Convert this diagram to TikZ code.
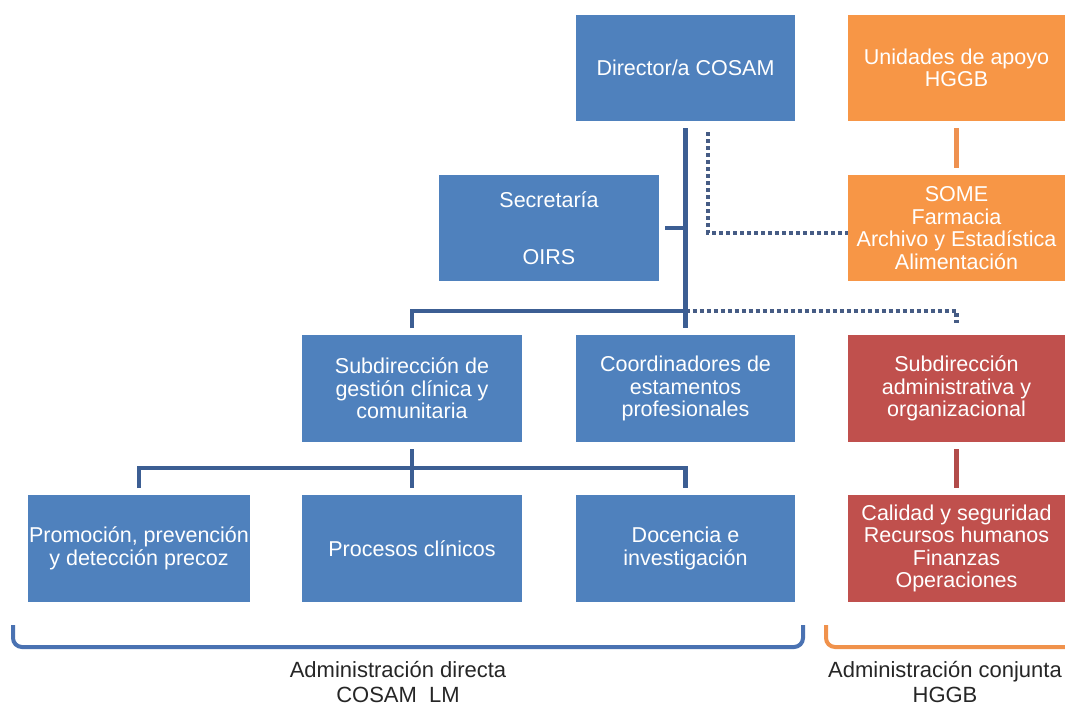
\documentclass[tikz,border=0pt]{standalone}
\usepackage{fontspec}
\setmainfont{Liberation Sans}
\definecolor{boxblue}{HTML}{4F81BD}
\definecolor{boxorange}{HTML}{F79646}
\definecolor{boxred}{HTML}{C0504D}
\definecolor{lineblue}{HTML}{3C5E93}
\definecolor{dotblue}{HTML}{465C85}
\definecolor{lineorange}{HTML}{EE9150}
\definecolor{linered}{HTML}{B24C4A}
\definecolor{bracketblue}{HTML}{4A72B2}
\definecolor{bracketorange}{HTML}{F0924C}
\definecolor{txt}{HTML}{262626}
\begin{document}
\begin{tikzpicture}[x=1pt,y=-1pt,
  box/.style={draw=none, inner sep=0pt, outer sep=0pt, minimum width=219pt,
    minimum height=106pt, align=center, text=white,
    font=\fontsize{21.5}{22.5}\selectfont},
  bluebox/.style={box, fill=boxblue},
  orangebox/.style={box, fill=boxorange},
  redbox/.style={box, fill=boxred},
  conn/.style={draw=lineblue, line width=4.5pt},
  dotline/.style={draw=dotblue, line width=4.2pt, dash pattern=on 4pt off 3pt},
  oline/.style={draw=lineorange, line width=4.5pt},
  rline/.style={draw=linered, line width=4.5pt},
  brace/.style={line width=4pt, rounded corners=9pt},
  lbl/.style={align=center, text=txt, inner sep=0pt,
    font=\fontsize{22}{24.5}\selectfont}
]
\useasboundingbox (0,0) rectangle (1065,705);

% boxes
\node[bluebox] (dir) at (685.5,68) {Director/a COSAM};
\node[orangebox, minimum width=217pt] (uni) at (956.5,68) {Unidades de apoyo\\HGGB};
\node[bluebox, minimum width=220pt] (sec) at (549,228) {Secretaría\\[34pt]OIRS};
\node[orangebox, minimum width=217pt] (some) at (956.5,228) {SOME\\Farmacia\\Archivo y Estadística\\Alimentación};
\node[bluebox, minimum width=220pt, minimum height=107pt] (sub) at (412,388.5) {Subdirección de\\gestión clínica y\\comunitaria};
\node[bluebox, minimum height=107pt] (coord) at (685.5,388.5) {Coordinadores de\\estamentos\\profesionales};
\node[redbox, minimum width=217pt, minimum height=107pt] (adm) at (956.5,388.5) {Subdirección\\administrativa y\\organizacional};
\node[bluebox, minimum width=222pt, minimum height=107pt] (prom) at (139,548.5) {Promoción, prevención\\y detección precoz};
\node[bluebox, minimum width=220pt, minimum height=107pt] (proc) at (412,548.5) {Procesos clínicos};
\node[bluebox, minimum height=107pt] (doc) at (685.5,548.5) {Docencia e\\investigación};
\node[redbox, minimum width=217pt, minimum height=107pt] (cal) at (956.5,548.5) {Calidad y seguridad\\Recursos humanos\\Finanzas\\Operaciones};

\coordinate (j1) at (685.5,311);
\coordinate (j2) at (412,468);

% dotted connectors
\draw[dotline] ([xshift=22.5pt,yshift=-11pt]dir.south) |- ([yshift=-5pt]some.west);
\draw[dotline] (j1) -| ([yshift=12pt]adm.north);

% solid connectors
\draw[conn] ([yshift=-7pt]dir.south) -- ([yshift=7pt]coord.north);
\draw[conn] ([xshift=6pt]sec.east) -- (sec.east -| dir.south);
\draw[conn] ([yshift=7pt]sub.north) |- (j1);
\draw[conn] ([yshift=-7pt]sub.south) -- ([yshift=7pt]proc.north);
\draw[conn] ([yshift=7pt]prom.north) |- (j2) -| ([yshift=7pt]doc.north);
\draw[oline] ([yshift=-7pt]uni.south) -- ([yshift=7pt]some.north);
\draw[rline] ([yshift=-7pt]adm.south) -- ([yshift=7pt]cal.north);

% brackets
\draw[brace, draw=bracketblue] (13,625) -- (13,647) -- (803,647) -- (803,625);
\draw[brace, draw=bracketorange] (826,625) -- (826,647) -- (1068,647);

% labels
\node[lbl] (ldir) at (398,682) {Administración directa\\COSAM\ \ LM};
\node[lbl] (lcon) at (945,682) {Administración conjunta\\HGGB};
\end{tikzpicture}
\end{document}
